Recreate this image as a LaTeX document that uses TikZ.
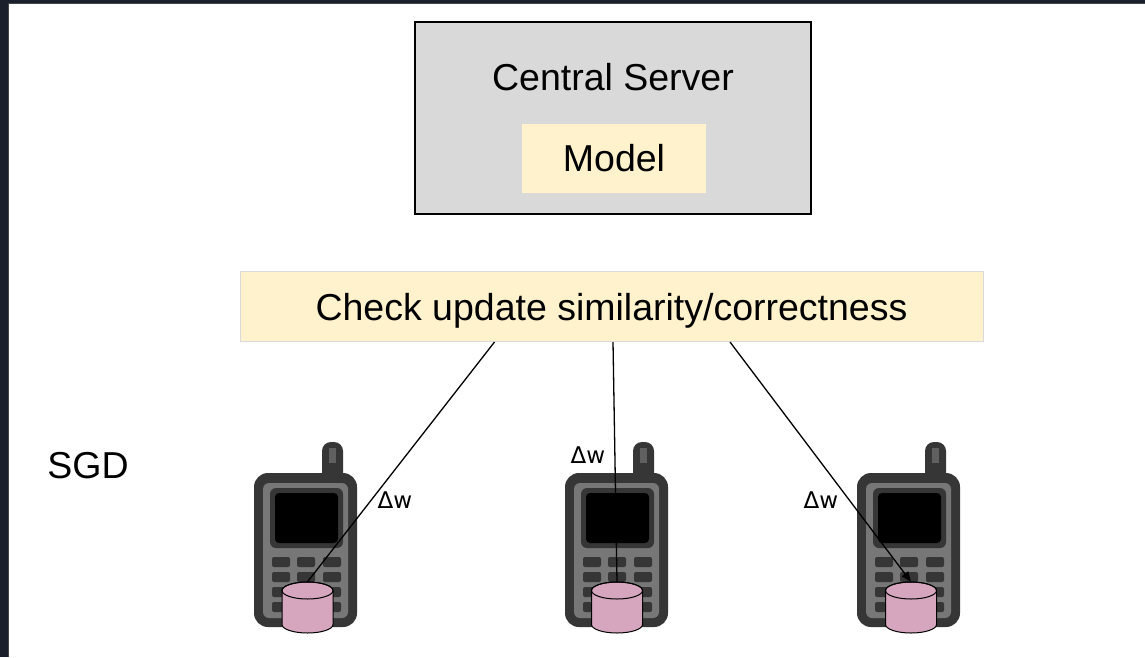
\documentclass[tikz,border=0pt]{standalone}
\usepackage{fontspec}
\setmainfont{Liberation Sans}
\newfontfamily\deltafont{DejaVu Sans}
\usepackage{tikz}
\usetikzlibrary{arrows.meta, positioning, shapes.geometric}

\definecolor{FrameNavy}{RGB}{27,31,43}
\definecolor{ServerGray}{RGB}{217,217,217}
\definecolor{PaleYellow}{RGB}{255,242,204}
\definecolor{DiskPink}{RGB}{213,166,189}
\definecolor{PhoneDark}{RGB}{54,54,54}
\definecolor{PhoneFace}{RGB}{119,119,119}
\newcommand{\bigtext}{\fontsize{37.5pt}{44pt}\selectfont}

% handset drawn from the top left corner of its body
\tikzset{
  phone/.pic={
    \fill[PhoneDark, rounded corners=9pt] (68,-31) rectangle (89,12);
    \fill[PhoneFace!65!PhoneDark] (75,-25) rectangle (82,-10);
    \fill[PhoneDark, rounded corners=14pt] (0,0) rectangle (103,154);
    \fill[PhoneFace, rounded corners=6pt] (9,10) rectangle (94,145);
    \fill[PhoneDark, rounded corners=6pt] (16,15) rectangle (89,75);
    \fill[black, rounded corners=4pt] (21,20) rectangle (84,70);
    \foreach \kx in {27,52,78}
      \foreach \ky in {89,104,119,134}
        \fill[PhoneDark, rounded corners=2pt] (\kx-9,\ky-5) rectangle (\kx+9,\ky+5);
  }
}

\begin{document}
\begin{tikzpicture}[x=1pt, y=-1pt,
  serverbox/.style={rectangle, draw=black, line width=1.2pt, fill=ServerGray,
    minimum width=396pt, minimum height=192pt},
  modelbox/.style={rectangle, fill=PaleYellow, minimum width=184pt,
    minimum height=69pt, font=\bigtext},
  checkbar/.style={rectangle, draw=ServerGray, line width=1pt, fill=PaleYellow,
    minimum width=743pt, minimum height=70pt, text depth=0pt, font=\bigtext},
  lbl/.style={font=\bigtext},
  disk/.style={rectangle, minimum width=51pt, minimum height=51pt, inner sep=0pt},
  diskline/.style={draw=black, line width=1pt, fill=DiskPink},
  dw/.style={font=\deltafont\fontsize{23pt}{26pt}\selectfont},
  upd/.style={line width=1.3pt, black},
]
\useasboundingbox (0,0) rectangle (1145,657);

% slide frame
\fill[FrameNavy] (0,0) rectangle (1145,657);
\fill[white] (9,4) rectangle (1145,657);
\draw[gray!55!black, line width=1pt] (8.5,657) -- (8.5,3.5) -- (1145,3.5);

% server side
\node[serverbox] (server) at (613,118) {};
\node[lbl] (servername) at (613,77) {Central Server};
\node[modelbox] (model) at (614,158.5) {Model};
\node[checkbar] (check) at (611.5,306.5) {Check update similarity/correctness};

\node[lbl] (sgd) at (88,466) {SGD};

% clients
\pic at (254,473) {phone};
\pic at (565,473) {phone};
\pic at (857,473) {phone};

\node[disk] (db1) at (307.5,607.5) {};
\node[disk] (db2) at (617,607.5) {};
\node[disk] (db3) at (911,607.5) {};

% local data stores
\foreach \d in {db1,db2,db3}{
  \begin{scope}[shift={(\d.center)}]
    \filldraw[diskline] (-25.5,-17) -- (-25.5,17)
      arc[start angle=180, end angle=0, x radius=25.5, y radius=8.5]
      -- (25.5,-17)
      arc[start angle=0, end angle=-180, x radius=25.5, y radius=8.5] -- cycle;
    \draw[diskline, fill=none] (0,-17) ellipse[x radius=25.5, y radius=8.5];
  \end{scope}
}

\draw[upd] ([xshift=-117pt]check.south) -- (db1.north);
\draw[upd] ([xshift=1.5pt]check.south) -- (db2.north);
\draw[upd, -{Triangle[length=10pt, width=8pt]}] ([xshift=118.5pt]check.south) -- (db3.north);

\node[dw] (dw1) at (395,500) {Δw};
\node[dw] (dw2) at (588,455) {Δw};
\node[dw] (dw3) at (821,500) {Δw};

\end{tikzpicture}
\end{document}
